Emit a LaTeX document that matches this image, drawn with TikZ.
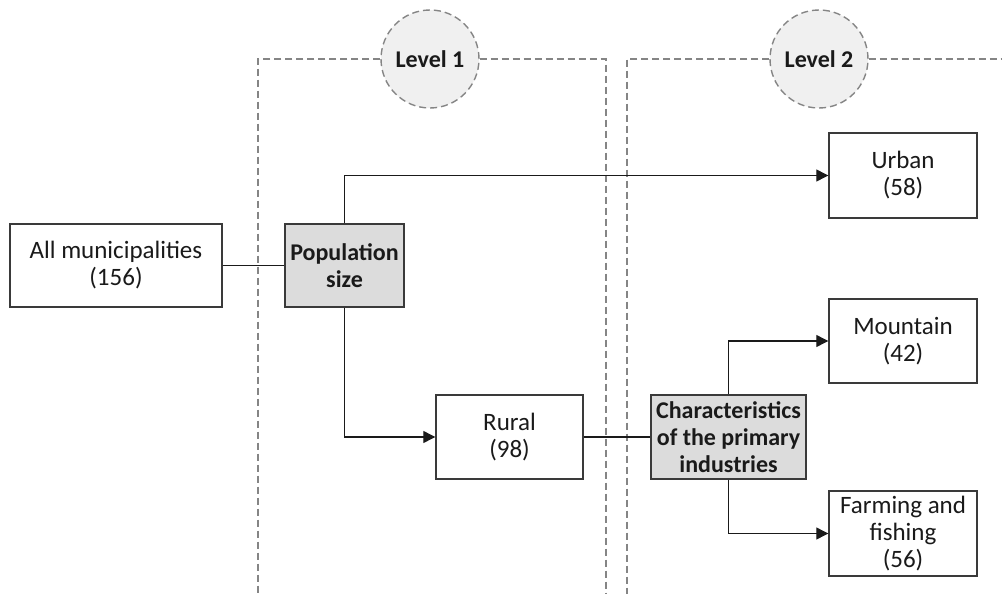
\documentclass[tikz,border=0pt]{standalone}
\usepackage{fontspec}
\setmainfont{Carlito}
\usetikzlibrary{arrows.meta}
\definecolor{boxline}{HTML}{3A3A3A}
\definecolor{dashgray}{HTML}{858585}
\definecolor{popfill}{HTML}{DCDCDC}
\definecolor{circfill}{HTML}{F0F0F0}
\definecolor{txt}{HTML}{1A1A1A}
\tikzset{
  plainbox/.style={draw=boxline, line width=1.4pt, fill=white, inner sep=0pt, align=center, text=txt,
    font=\fontsize{25}{27}\selectfont},
  critbox/.style={plainbox, fill=popfill, font=\bfseries\fontsize{24}{27}\selectfont},
  levelcirc/.style={circle, draw=dashgray, fill=circfill, line width=1.4pt, dash pattern=on 7pt off 4pt,
    minimum size=98pt, inner sep=0pt, text=txt, font=\bfseries\fontsize{24}{27}\selectfont},
  panel/.style={draw=dashgray, line width=1.4pt, dash pattern=on 7pt off 4pt},
  conn/.style={draw=txt, line width=1.2pt},
  arr/.style={conn, -{Triangle[length=12pt, width=12pt]}}
}
\begin{document}
\begin{tikzpicture}[x=1pt, y=-1pt]
\useasboundingbox (0,0) rectangle (1002,594);
% level panels
\node[levelcirc] (lv1) at (430,59) {Level 1};
\node[levelcirc] (lv2) at (819,59) {Level 2};
\coordinate (p1tl) at (258,59);
\coordinate (p1bl) at (258,594);
\coordinate (p1tr) at (606,59);
\coordinate (p1br) at (606,594);
\coordinate (p2tl) at (627,59);
\coordinate (p2bl) at (627,594);
\coordinate (p2tr) at (1002,59);
\draw[panel] (lv1.west) -- (p1tl) -- (p1bl);
\draw[panel] (lv1.east) -- (p1tr) -- (p1br);
\draw[panel] (lv2.west) -- (p2tl) -- (p2bl);
\draw[panel] (lv2.east) -- (p2tr);
% boxes
\node[plainbox, minimum width=212pt, minimum height=83pt] (allm) at (116,265.5) {All municipalities\\(156)};
\node[critbox, minimum width=119pt, minimum height=83pt] (pop) at (344.5,265.5) {Population\\size};
\node[plainbox, minimum width=148pt, minimum height=85pt] (urban) at (903,175.5) {Urban\\(58)};
\node[plainbox, minimum width=147pt, minimum height=84pt] (rural) at (509.5,437) {Rural\\(98)};
\node[critbox, minimum width=155pt, minimum height=84pt] (chars) at (728.5,437) {Characteristics\\of the primary\\industries};
\node[plainbox, minimum width=148pt, minimum height=84pt] (mount) at (903,341) {Mountain\\(42)};
\node[plainbox, minimum width=148pt, minimum height=85pt] (farm) at (903,533.5) {Farming and\\fishing\\(56)};
% connectors
\draw[conn] (allm.east) -- (pop.west);
\draw[arr] (pop.north) |- (urban.west);
\draw[arr] (pop.south) |- (rural.west);
\draw[conn] (rural.east) -- (chars.west);
\draw[arr] (chars.north) |- (mount.west);
\draw[arr] (chars.south) |- (farm.west);
\end{tikzpicture}
\end{document}
